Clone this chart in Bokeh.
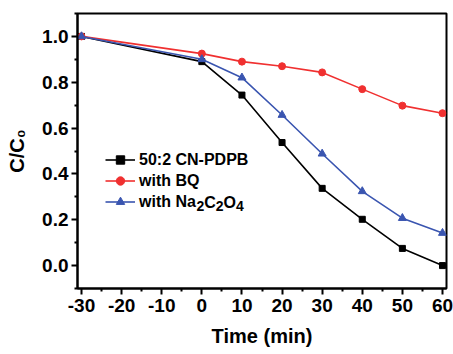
from bokeh.plotting import figure
from bokeh.models import Range1d, FixedTicker, Legend, LegendItem, Label, CustomJSTickFormatter
from bokeh.embed import file_html
from bokeh.resources import INLINE

time = [-30, 0, 10, 20, 30, 40, 50, 60]
cn_pdpb = [1.0, 0.89, 0.744, 0.537, 0.337, 0.202, 0.075, 0.0]
with_bq = [1.0, 0.925, 0.89, 0.87, 0.843, 0.77, 0.698, 0.665]
with_na = [1.0, 0.90, 0.82, 0.657, 0.488, 0.324, 0.207, 0.142]
x_ticks = [-30, -20, -10, 0, 10, 20, 30, 40, 50, 60]
y_ticks = [0.0, 0.2, 0.4, 0.6, 0.8, 1.0]
series_names = ["50:2 CN-PDPB", "with BQ", "with Na"]

FONT = "Liberation Sans"
X0, X1, Y0, Y1 = -31, 61, -0.1, 1.1
FL, FR, FT, FB = 77, 446, 13, 288  # frame edges in pixels


def sx(px):
    return X0 + (px - FL) * (X1 - X0) / (FR - FL)


def sy(py):
    return Y1 - (py - FT) * (Y1 - Y0) / (FB - FT)


p = figure(width=453, height=354, output_backend="svg", toolbar_location=None,
           x_range=Range1d(X0, X1), y_range=Range1d(Y0, Y1))
p.min_border_left = FL
p.min_border_right = 453 - FR
p.min_border_top = FT
p.min_border_bottom = 354 - FB
p.grid.visible = False
p.outline_line_color = "black"
p.outline_line_width = 2
p.background_fill_color = "white"
p.border_fill_color = "white"

p.xaxis.ticker = FixedTicker(ticks=x_ticks, minor_ticks=[t + 5 for t in x_ticks[:-1]])
p.yaxis.ticker = FixedTicker(ticks=y_ticks, minor_ticks=[round(t + 0.1, 1) for t in y_ticks] + [-0.1])
p.xaxis.formatter = CustomJSTickFormatter(code="return tick.toFixed(0);")
p.yaxis.formatter = CustomJSTickFormatter(code="return tick.toFixed(1);")
for ax in (p.xaxis, p.yaxis):
    ax.axis_line_width = 2
    ax.major_tick_line_width = 2
    ax.minor_tick_line_width = 2
    ax.major_tick_out = 6
    ax.major_tick_in = 0
    ax.minor_tick_out = 3
    ax.minor_tick_in = 0
    ax.major_label_text_font = FONT
    ax.major_label_text_font_style = "bold"
    ax.major_label_text_font_size = "19px"
    ax.major_label_text_color = "black"
    ax.axis_label_text_font = FONT
    ax.axis_label_text_font_style = "bold"
    ax.axis_label_text_font_size = "20px"
    ax.axis_label_text_color = "black"

p.xaxis.major_label_standoff = 4
p.yaxis.major_label_standoff = 3
p.xaxis.axis_label = "Time (min)"
p.xaxis.axis_label_standoff = 10
p.yaxis.axis_label = "C/C₀"
p.yaxis.axis_label_standoff = 11

r1l = p.line(time, cn_pdpb, line_color="black", line_width=1.6)
r1m = p.scatter(time, cn_pdpb, marker="square", size=6, fill_color="black", line_color="black")
r2l = p.line(time, with_bq, line_color="#f03030", line_width=1.6)
r2m = p.scatter(time, with_bq, marker="circle", size=7, fill_color="#f03030", line_color="#f03030")
r3l = p.line(time, with_na, line_color="#3a55b0", line_width=1.6)
r3m = p.scatter(time, with_na, marker="triangle", size=8, fill_color="#3a55b0", line_color="#3a55b0")

legend = Legend(items=[
    LegendItem(label=series_names[0], renderers=[r1l, r1m]),
    LegendItem(label=series_names[1], renderers=[r2l, r2m]),
    LegendItem(label=series_names[2], renderers=[r3l, r3m]),
], location=(28, 76))
legend.border_line_color = None
legend.background_fill_alpha = 0
legend.padding = 0
legend.margin = 0
legend.spacing = 0
legend.glyph_width = 30
legend.glyph_height = 21
legend.label_height = 21
legend.label_standoff = 4
legend.label_text_font = FONT
legend.label_text_font_style = "bold"
legend.label_text_font_size = "16px"
legend.label_text_color = "black"
p.add_layout(legend)

# remaining part of the third legend label: Na2C2O4 with subscripts
row_y = 201.5
x_cur = 139 + 3.556 * 16
for piece, is_sub in [("2", True), ("C", False), ("2", True), ("O", False), ("4", True)]:
    size = 14 if is_sub else 16
    w = {"2": 0.556, "4": 0.556, "C": 0.722, "O": 0.778}[piece] * size
    p.add_layout(Label(x=sx(x_cur), y=sy(row_y + (4 if is_sub else 0)), text=piece,
                       text_font=FONT, text_font_style="bold", text_font_size=f"{size}px",
                       text_align="left", text_baseline="middle", text_color="black"))
    x_cur += w

open("out.html", "w").write(file_html(p, INLINE))
